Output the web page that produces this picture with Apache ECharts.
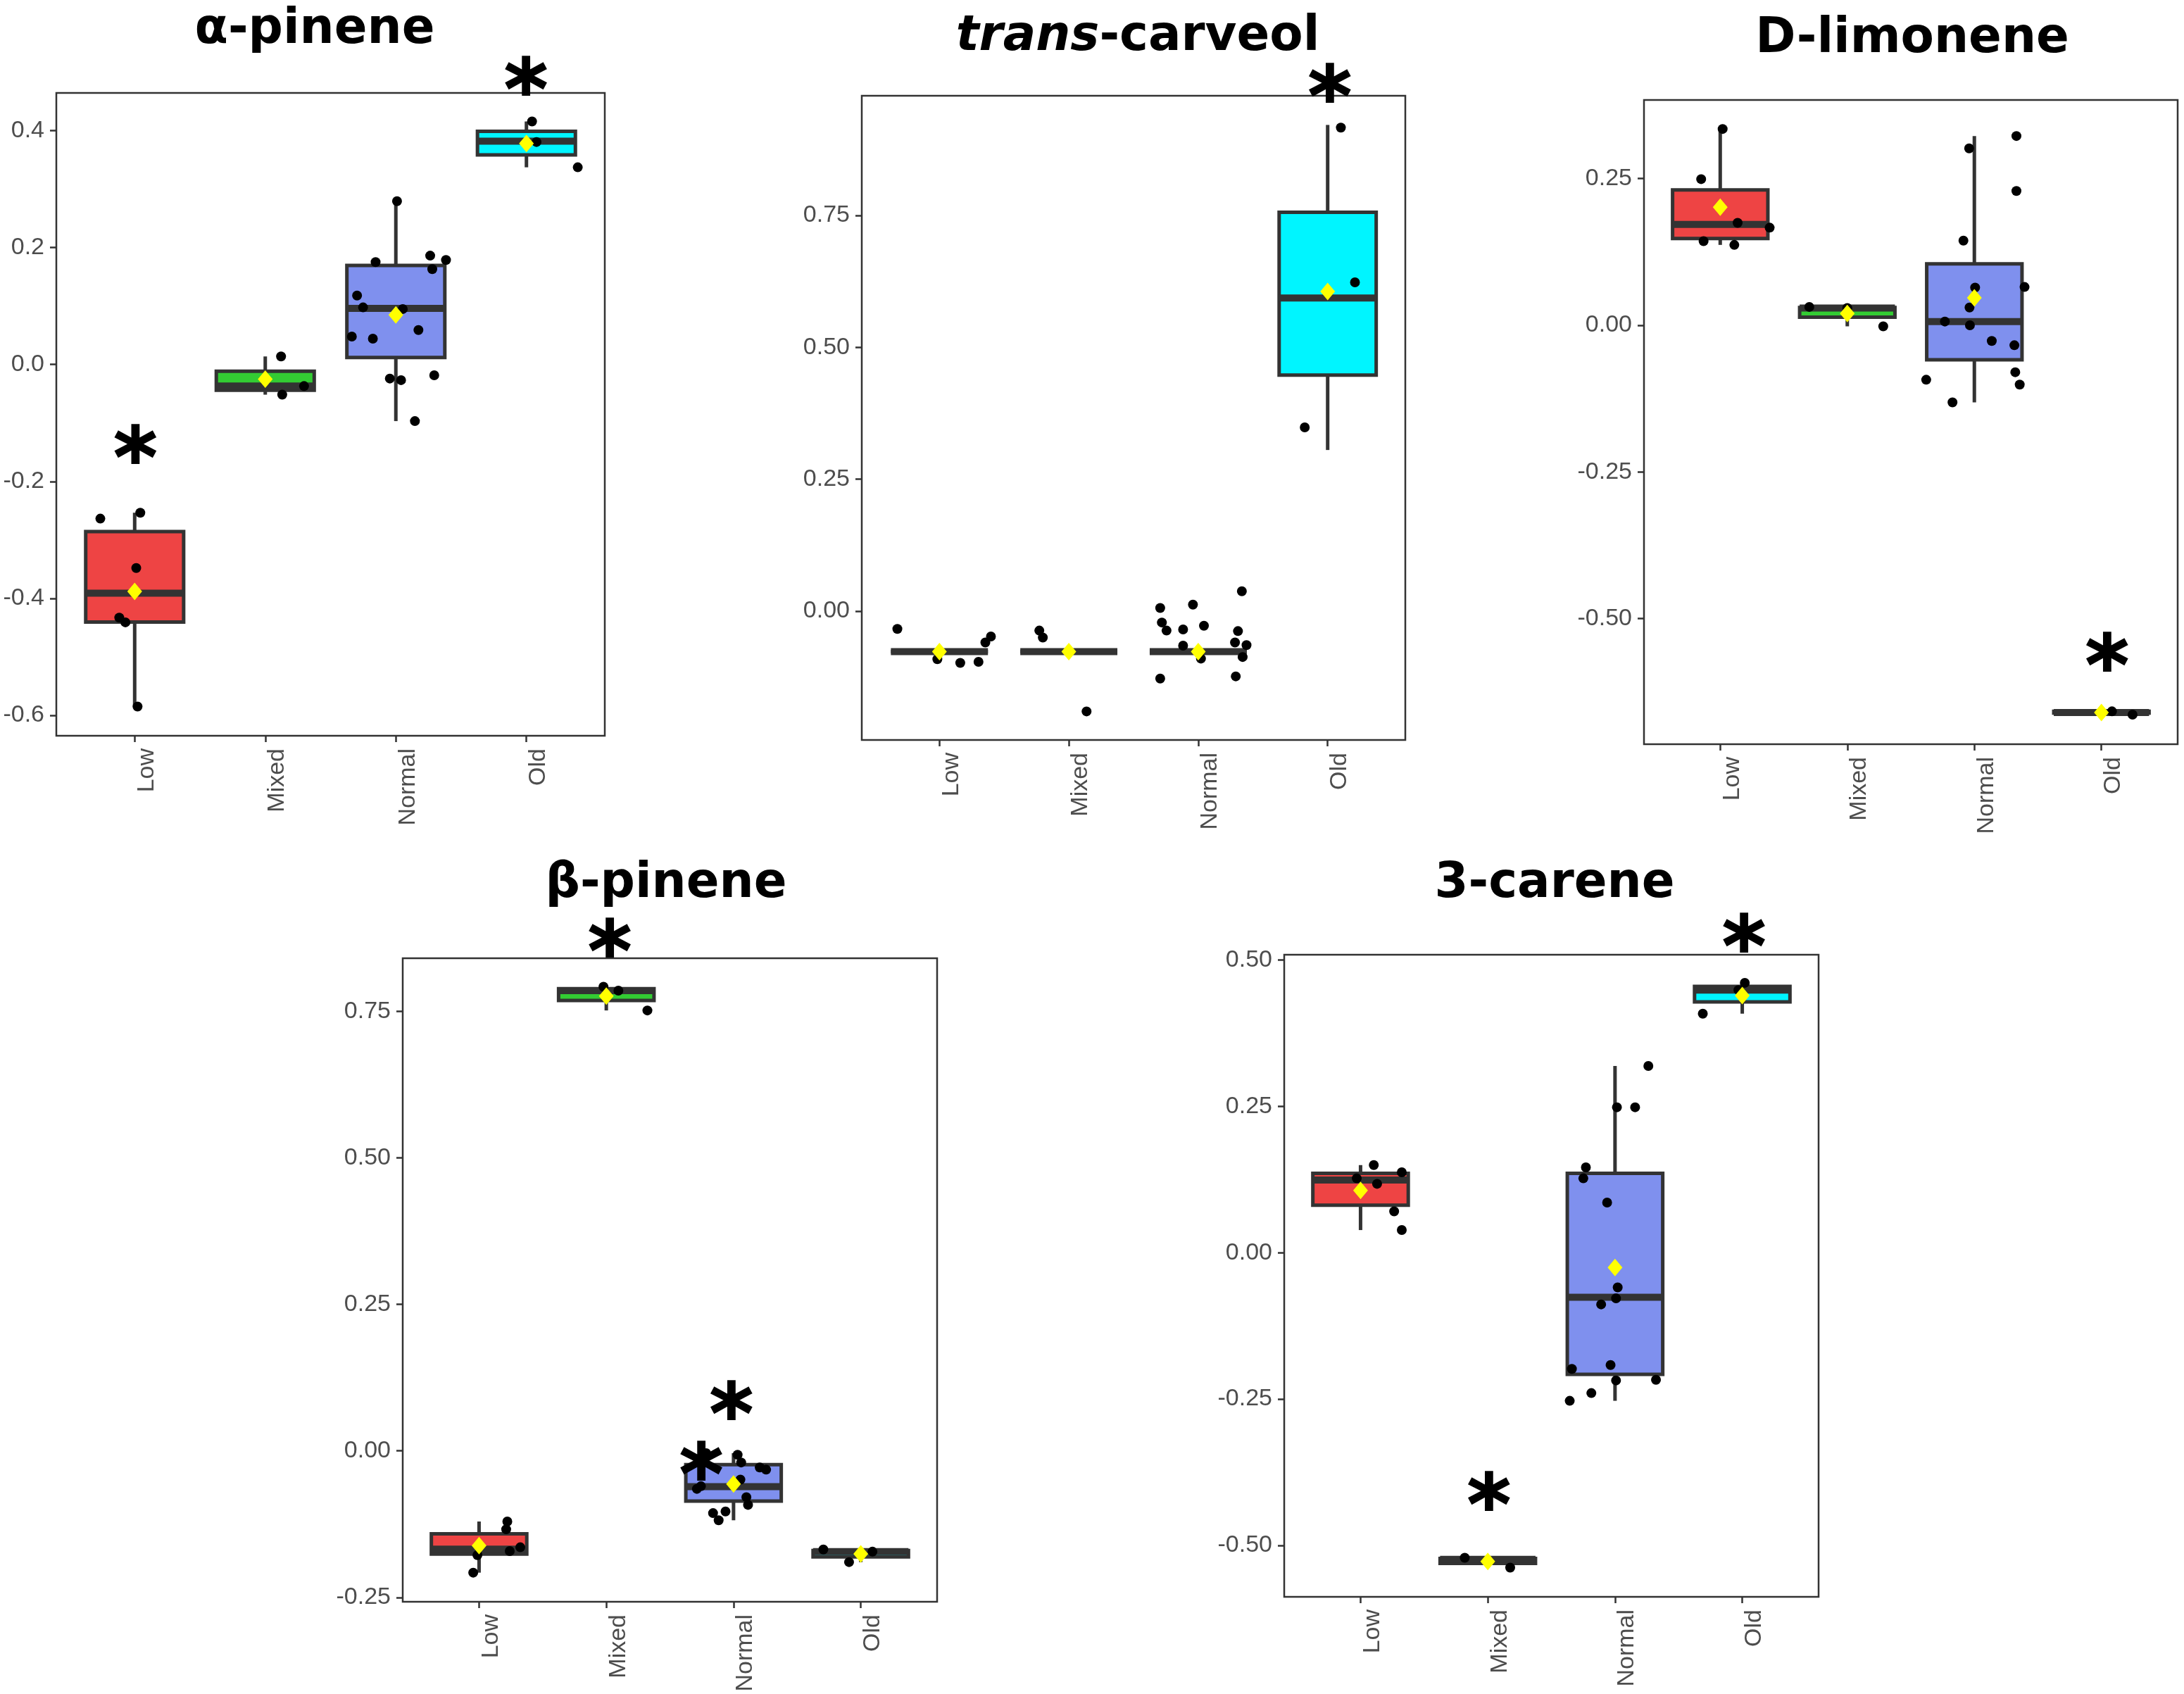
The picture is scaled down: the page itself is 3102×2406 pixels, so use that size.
<!DOCTYPE html>
<html>
<head>
<meta charset="utf-8">
<script src="https://cdn.jsdelivr.net/npm/echarts@6/dist/echarts.min.js"></script>
<style>
  html, body { margin: 0; padding: 0; background: #fff; }
  #chart { width: 3102px; height: 2406px; }
</style>
</head>
<body>
<div id="chart"></div>
<script>
'use strict'

const groups = ['Low', 'Mixed', 'Normal', 'Old'];
const groupColors = ['#EE4444', '#33CC33', '#7F90EE', '#00F5FF'];

// box stats per group: [min, q1, median, q3, max]
const alphaBox = [
  [-0.586, -0.4405, -0.391, -0.2857, -0.2535],
  [-0.0516, -0.044, -0.0369, -0.0116, 0.0138],
  [-0.0968, 0.012, 0.0959, 0.1696, 0.2793],
  [0.3373, 0.3585, 0.382, 0.399, 0.4157]
];
const alphaMean = [-0.388, -0.025, 0.0848, 0.378];
// jittered points: [group position + jitter, value]
const alphaPts = [
  [-0.263, -0.2636], [0.043, -0.2535], [0.012, -0.348], [-0.118, -0.433], [-0.071, -0.441], [0.022, -0.585],
  [1.121, 0.0138], [1.130, -0.0516], [1.297, -0.0369],
  [2.009, 0.2793], [1.845, 0.1751], [2.263, 0.1862], [2.384, 0.1788], [2.279, 0.1631], [1.703, 0.118],
  [1.749, 0.0977], [2.053, 0.0949], [1.663, 0.0479], [1.824, 0.0442], [2.173, 0.059], [1.954, -0.024],
  [2.040, -0.0267], [2.294, -0.0184], [2.146, -0.0968],
  [3.043, 0.4157], [3.077, 0.3806], [3.393, 0.3373]
];
const alphaStars = [[0.006, -0.1456], [2.997, 0.484]];

const carvBox = [
  [-0.0766, -0.0766, -0.0766, -0.0766, -0.0766],
  [-0.0766, -0.0766, -0.0766, -0.0766, -0.0766],
  [-0.0766, -0.0766, -0.0766, -0.0766, -0.0766],
  [0.3055, 0.4476, 0.5937, 0.756, 0.9217]
];
const carvMean = [-0.0766, -0.0766, -0.0766, 0.606];
const carvPts = [
  [-0.325, -0.0337], [-0.016, -0.091], [0.161, -0.0981], [0.302, -0.096], [0.355, -0.0593], [0.398, -0.048],
  [0.772, -0.0368], [0.799, -0.0501], [1.137, -0.190],
  [1.706, 0.0061], [1.959, 0.0123], [2.337, 0.0378], [1.719, -0.0215], [1.755, -0.0368], [1.883, -0.0347],
  [2.044, -0.0276], [2.307, -0.0378], [1.883, -0.0654], [2.284, -0.0593], [2.373, -0.0644], [2.021, -0.0899],
  [2.343, -0.0869], [1.706, -0.1277], [2.29, -0.1236],
  [3.102, 0.9166], [3.211, 0.6233], [2.823, 0.3484]
];
const carvStars = [[3.017, 0.990]];

const limoBox = [
  [0.137, 0.148, 0.1719, 0.2307, 0.3346],
  [-0.0018, 0.0138, 0.0294, 0.0304, 0.0313],
  [-0.1314, -0.0588, 0.0064, 0.1048, 0.3226],
  [-0.6636, -0.661, -0.66, -0.658, -0.658]
];
const limoMean = [0.2013, 0.0202, 0.0469, -0.66];
const limoPts = [
  [0.019, 0.3346], [-0.150, 0.2491], [0.137, 0.1746], [0.389, 0.1664], [-0.131, 0.1434], [0.111, 0.137],
  [0.701, 0.0313], [1.0, 0.0294], [1.283, -0.0018],
  [1.959, 0.3015], [2.331, 0.3226], [2.331, 0.2289], [1.914, 0.1443], [2.006, 0.0643], [2.395, 0.0653],
  [1.962, 0.0303], [1.768, 0.0064], [1.965, 0.0], [2.137, -0.0267], [2.315, -0.034], [1.621, -0.0928],
  [2.322, -0.08], [2.357, -0.1011], [1.828, -0.1314],
  [3.083, -0.658], [3.245, -0.6636]
];
const limoStars = [[3.045, -0.566]];

const betaBox = [
  [-0.2078, -0.1761, -0.1678, -0.1415, -0.1205],
  [0.7519, 0.7688, 0.7857, 0.789, 0.7923],
  [-0.1184, -0.0855, -0.0611, -0.0235, -0.0038],
  [-0.1898, -0.181, -0.172, -0.1701, -0.1682]
];
const betaMean = [-0.1617, 0.7763, -0.0564, -0.1757];
const betaPts = [
  [0.222, -0.1205], [0.213, -0.1338], [0.241, -0.171], [0.324, -0.1645], [-0.013, -0.1778], [-0.046, -0.2078],
  [0.978, 0.7923], [1.095, 0.7857], [1.323, 0.7519],
  [2.032, -0.0066], [2.06, -0.0197], [2.206, -0.0282], [2.256, -0.032], [1.785, -0.0038], [2.054, -0.0489],
  [1.712, -0.0648], [1.744, -0.0602], [2.101, -0.0789], [2.114, -0.0921], [1.839, -0.1062], [1.937, -0.1034],
  [1.883, -0.1184],
  [2.706, -0.1682], [2.908, -0.1898], [3.092, -0.172]
];
const betaStars = [[1.028, 0.8656], [1.984, 0.0761], [1.747, -0.0273]];

const careBox = [
  [0.0386, 0.081, 0.124, 0.1355, 0.1496],
  [-0.5381, -0.531, -0.5238, -0.5225, -0.5212],
  [-0.2531, -0.2079, -0.0762, 0.1355, 0.3189],
  [0.4083, 0.4285, 0.4487, 0.4549, 0.461]
];
const careMean = [0.1063, -0.5277, -0.0254, 0.4393];
const carePts = [
  [-0.03, 0.127], [0.104, 0.1496], [0.13, 0.1176], [0.324, 0.1373], [0.264, 0.0706], [0.324, 0.0386],
  [0.819, -0.5212], [1.176, -0.5381],
  [2.262, 0.3189], [2.015, 0.2484], [2.158, 0.2484], [1.771, 0.1458], [1.751, 0.127], [1.938, 0.0856],
  [2.021, -0.0593], [2.008, -0.0781], [1.891, -0.0884], [1.661, -0.1985], [1.965, -0.1919], [2.008, -0.2183],
  [2.322, -0.2173], [1.644, -0.2531], [1.814, -0.2399],
  [3.02, 0.461], [2.97, 0.4487], [2.69, 0.4083]
];
const careStars = [[1.009, -0.4177], [3.014, 0.537]];

const alphaTicks = [-0.6, -0.4, -0.2, 0, 0.2, 0.4];
const carvTicks = [0, 0.25, 0.5, 0.75];
const limoTicks = [-0.5, -0.25, 0, 0.25];
const betaTicks = [-0.25, 0, 0.25, 0.5, 0.75];
const careTicks = [-0.5, -0.25, 0, 0.25, 0.5];

const panels = [
  {title: 'α-pinene', box: alphaBox, mean: alphaMean, pts: alphaPts, stars: alphaStars,
   ticks: alphaTicks, digits: 1, min: -0.635, max: 0.4645,
   grid: {left: 80, top: 132, width: 779, height: 913}, tx: 447, ty: 67},
  {title: '{i|trans}{n|-carveol}', box: carvBox, mean: carvMean, pts: carvPts, stars: carvStars,
   ticks: carvTicks, digits: 2, min: -0.2442, max: 0.977,
   grid: {left: 1224, top: 136, width: 772, height: 915}, tx: 1616, ty: 76.5},
  {title: 'D-limonene', box: limoBox, mean: limoMean, pts: limoPts, stars: limoStars,
   ticks: limoTicks, digits: 2, min: -0.714, max: 0.384,
   grid: {left: 2335, top: 142, width: 758, height: 915}, tx: 2716, ty: 80},
  {title: 'β-pinene', box: betaBox, mean: betaMean, pts: betaPts, stars: betaStars,
   ticks: betaTicks, digits: 2, min: -0.2575, max: 0.841,
   grid: {left: 572, top: 1361, width: 759, height: 914}, tx: 946, ty: 1280},
  {title: '3-carene', box: careBox, mean: careMean, pts: carePts, stars: careStars,
   ticks: careTicks, digits: 2, min: -0.588, max: 0.509,
   grid: {left: 1824, top: 1356, width: 759, height: 912}, tx: 2208, ty: 1280}
];

const DARK = '#333333';
const TITLE_SIZE = 69;
const STAR_SIZE = 118;
const titleFont = {fontFamily: 'DejaVu Sans', fontWeight: 'bold', fontSize: TITLE_SIZE};

function renderBox(params, api) {
  const x = api.value(0);
  const lo = api.value(1), q1 = api.value(2), med = api.value(3), q3 = api.value(4), hi = api.value(5);
  const hw = 0.375;
  const tl = api.coord([x - hw, q3]);
  const br = api.coord([x + hw, q1]);
  const m1 = api.coord([x - hw, med]);
  const m2 = api.coord([x + hw, med]);
  const pHi = api.coord([x, hi]);
  const pQ3 = api.coord([x, q3]);
  const pQ1 = api.coord([x, q1]);
  const pLo = api.coord([x, lo]);
  const line = {stroke: DARK, lineWidth: 5};
  return {
    type: 'group',
    children: [
      {type: 'line', shape: {x1: pHi[0], y1: pHi[1], x2: pQ3[0], y2: pQ3[1]}, style: line},
      {type: 'line', shape: {x1: pQ1[0], y1: pQ1[1], x2: pLo[0], y2: pLo[1]}, style: line},
      {type: 'rect', shape: {x: tl[0], y: tl[1], width: br[0] - tl[0], height: br[1] - tl[1]},
       style: {fill: groupColors[params.dataIndex], stroke: DARK, lineWidth: 5}},
      {type: 'line', shape: {x1: m1[0], y1: m1[1], x2: m2[0], y2: m2[1]}, style: {stroke: DARK, lineWidth: 10}}
    ]
  };
}

function renderStar(params, api) {
  const p = api.coord([api.value(0), api.value(1)]);
  return {
    type: 'text',
    x: p[0],
    y: p[1] + STAR_SIZE * 0.18,
    style: {
      text: '*', fill: '#000', textAlign: 'center', textVerticalAlign: 'middle',
      fontFamily: 'DejaVu Sans', fontWeight: 'bold', fontSize: STAR_SIZE,
      stroke: '#000', lineWidth: 2
    }
  };
}

const grids = [], xAxes = [], yAxes = [], series = [], graphics = [];

panels.forEach((p, i) => {
  grids.push(Object.assign({show: true, borderColor: DARK, borderWidth: 2.5}, p.grid));
  xAxes.push({
    gridIndex: i, type: 'value', min: -0.6, max: 3.6, position: 'bottom',
    splitLine: {show: false}, axisLine: {show: false, onZero: false},
    axisTick: {show: true, customValues: [0, 1, 2, 3], length: 9, lineStyle: {color: DARK, width: 2.5}},
    axisLabel: {
      customValues: [0, 1, 2, 3], rotate: 90, margin: 18, verticalAlign: 'top',
      formatter: v => groups[Math.round(v)],
      color: '#4D4D4D', fontSize: 34, fontFamily: 'Liberation Sans'
    }
  });
  yAxes.push({
    gridIndex: i, type: 'value', min: p.min, max: p.max, position: 'left',
    splitLine: {show: false}, axisLine: {show: false, onZero: false},
    axisTick: {show: true, customValues: p.ticks, length: 9, lineStyle: {color: DARK, width: 2.5}},
    axisLabel: {
      customValues: p.ticks, margin: 17,
      formatter: v => v.toFixed(p.digits),
      color: '#4D4D4D', fontSize: 34, fontFamily: 'Liberation Sans'
    }
  });
  series.push({
    type: 'custom', xAxisIndex: i, yAxisIndex: i, renderItem: renderBox, z: 2, silent: true,
    encode: {x: 0, y: [1, 2, 3, 4, 5]},
    data: p.box.map((b, g) => [g].concat(b))
  });
  series.push({
    type: 'scatter', xAxisIndex: i, yAxisIndex: i, z: 3, silent: true,
    symbolSize: 14, itemStyle: {color: '#000', opacity: 1},
    data: p.pts
  });
  series.push({
    type: 'scatter', xAxisIndex: i, yAxisIndex: i, z: 4, silent: true,
    symbol: 'diamond', symbolSize: [21, 25], itemStyle: {color: '#FFFF00', opacity: 1},
    data: p.mean.map((m, g) => [g, m])
  });
  series.push({
    type: 'custom', xAxisIndex: i, yAxisIndex: i, renderItem: renderStar, z: 5, silent: true, clip: false,
    data: p.stars
  });
  graphics.push({
    type: 'text', x: p.tx, y: p.ty - TITLE_SIZE * 0.346,
    style: Object.assign({
      text: p.title, fill: '#000', textAlign: 'center', textVerticalAlign: 'middle',
      rich: {
        i: Object.assign({fontStyle: 'italic'}, titleFont),
        n: Object.assign({}, titleFont)
      }
    }, titleFont)
  });
});

const chart = echarts.init(document.getElementById('chart'));
chart.setOption({
  animation: false,
  backgroundColor: '#fff',
  grid: grids,
  xAxis: xAxes,
  yAxis: yAxes,
  series: series,
  graphic: graphics
});
</script>
</body>
</html>
